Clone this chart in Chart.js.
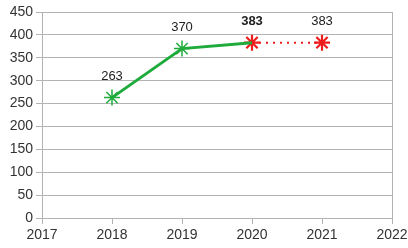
<!DOCTYPE html>
<html><head><meta charset="utf-8">
<script src="https://cdn.jsdelivr.net/npm/chart.js@4/dist/chart.umd.min.js"></script>
<style>html,body{margin:0;padding:0;background:#fff}#wrap{width:408px;height:248px}</style>
</head><body><div id="wrap"><canvas id="c" width="408" height="248"></canvas></div>
<script>
const years = [2018, 2019, 2020];
const values = [263, 370, 383];
const projYears = [2020, 2021];
const projValues = [383, 383];
const boldLabelYear = 2020;
const xMin = 2017, xMax = 2022;
const yMin = 0, yMax = 450, yStep = 50;

const green = '#1fab3b';
const red = '#ee1c1c';
const FONT = '"Liberation Sans", Arial, sans-serif';

const labelPlugin = {
  id: 'vals',
  afterDatasetsDraw(chart) {
    const ctx = chart.ctx;
    const xs = chart.scales.x, ys = chart.scales.y;
    const pts = [];
    years.forEach((x, i) => pts.push([x, values[i]]));
    projYears.forEach((x, i) => { if (!years.includes(x)) pts.push([x, projValues[i]]); });
    ctx.save();
    ctx.textAlign = 'center';
    ctx.textBaseline = 'middle';
    ctx.fillStyle = '#222';
    pts.forEach(([x, y]) => {
      ctx.font = (x === boldLabelYear ? 'bold ' : '') + '13px ' + FONT;
      ctx.fillText(String(y), xs.getPixelForValue(x), ys.getPixelForValue(y) - 21);
    });
    // right border of plot
    const a = chart.chartArea;
    ctx.strokeStyle = '#b3b3b3'; ctx.lineWidth = 1;
    ctx.beginPath(); ctx.moveTo(Math.round(a.right) + 0.5, a.top); ctx.lineTo(Math.round(a.right) + 0.5, a.bottom); ctx.stroke();
    ctx.restore();
  }
};

new Chart(document.getElementById('c'), {
  type: 'line',
  data: {
    datasets: [
      {
        data: projYears.map((x, i) => ({x, y: projValues[i]})),
        borderColor: red, borderWidth: 2, borderDash: [2, 5],
        pointStyle: 'star', pointRadius: 8, pointBorderWidth: 2.2,
        pointBorderColor: red, pointBackgroundColor: red, order: 2
      },
      {
        data: years.map((x, i) => ({x, y: values[i]})),
        borderColor: green, borderWidth: 3,
        pointStyle: 'star', pointRadius: [8, 8, 0], pointBorderWidth: 1.5,
        pointBorderColor: green, pointBackgroundColor: green, order: 1
      }
    ]
  },
  options: {
    responsive: false, animation: false,
    layout: { padding: { top: 12, right: 16, left: 0, bottom: 0 } },
    plugins: { legend: { display: false }, tooltip: { enabled: false } },
    scales: {
      x: {
        type: 'linear', min: xMin, max: xMax,
        ticks: { stepSize: 1, color: '#333', font: { size: 14, family: FONT }, padding: 3, maxRotation: 0,
          callback: v => String(v) },
        grid: { display: true, drawOnChartArea: false, tickLength: 6, color: '#b3b3b3' },
        border: { color: '#b3b3b3' },
        afterFit(s) { s.height = 30; s.paddingRight = 0; s.paddingLeft = 0; }
      },
      y: {
        min: yMin, max: yMax,
        ticks: { stepSize: yStep, color: '#333', font: { size: 14, family: FONT }, padding: 3 },
        grid: { color: '#b3b3b3', tickLength: 6 },
        border: { color: '#b3b3b3' },
        afterFit(s) { s.width = 42; }
      }
    }
  },
  plugins: [labelPlugin]
});
</script></body></html>
